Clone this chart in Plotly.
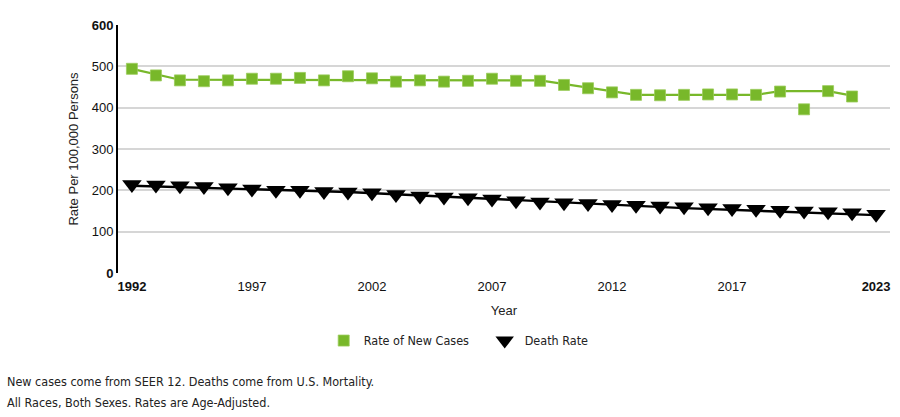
import plotly.graph_objects as go

years_new = list(range(1992, 2023))
rate_new = [494, 478, 466, 464, 466, 470, 470, 472, 466, 476, 471, 463, 466, 463, 465,
            470, 465, 465, 455, 447, 437, 431, 430, 431, 432, 432, 431, 439, 396, 440, 427]

years_death = list(range(1992, 2024))
rate_death = [214, 213, 211, 209, 206, 203, 200, 200, 197, 196, 194, 190, 186, 184, 182, 179,
              175, 172, 170, 168, 166, 164, 162, 160, 158, 156, 154, 152, 150, 148, 146, 142]

# modeled trend lines (joinpoints)
trend_new_years = [1992, 1994, 2009, 2013, 2018, 2019, 2021, 2022]
trend_new_vals = [494, 467.5, 466, 431, 431, 440, 440, 429]
trend_death_years = [1992, 2001, 2015, 2023]
trend_death_vals = [211, 196, 157, 140]

xticks = [1992, 1997, 2002, 2007, 2012, 2017, 2023]
xticktext = ["<b>1992</b>", "1997", "2002", "2007", "2012", "2017", "<b>2023</b>"]
yticks = [0, 100, 200, 300, 400, 500, 600]
yticktext = ["<b>0</b>", "100", "200", "300", "400", "500", "<b>600</b>"]

GREEN = "#78b82a"
NARROW = "Liberation Sans Narrow, DejaVu Sans Condensed, sans-serif"

fig = go.Figure()
fig.add_trace(go.Scatter(x=trend_new_years, y=trend_new_vals, mode="lines",
                         line=dict(color=GREEN, width=2.2), showlegend=False, hoverinfo="skip"))
fig.add_trace(go.Scatter(x=trend_death_years, y=trend_death_vals, mode="lines",
                         line=dict(color="#000000", width=2.4), showlegend=False, hoverinfo="skip"))
fig.add_trace(go.Scatter(x=years_new, y=rate_new, mode="markers", name="Rate of New Cases",
                         marker=dict(symbol="square", size=11, color=GREEN,
                                     line=dict(color="#9bcc5a", width=0.8))))
fig.add_trace(go.Scatter(x=years_death, y=rate_death, mode="markers", name="Death Rate",
                         marker=dict(symbol="triangle-down", size=17, color="#000000",
                                     line=dict(width=0))))

fig.update_layout(
    width=900, height=417,
    margin=dict(l=118, r=10, t=25, b=144),
    plot_bgcolor="white", paper_bgcolor="white",
    font=dict(family="Liberation Sans, Arial, sans-serif", size=13, color="#222222"),
    xaxis=dict(range=[1991.42, 2023.58], tickvals=xticks, ticktext=xticktext,
               showgrid=False, zeroline=False, showline=False, ticks="",
               ticklabelstandoff=4,
               tickfont=dict(size=13, color="#111111"),
               title=dict(text="Year", font=dict(size=13), standoff=12)),
    yaxis=dict(range=[0, 600], tickvals=yticks, ticktext=yticktext,
               showgrid=True, gridcolor="#d6d6d6", gridwidth=1.5, zeroline=False,
               showline=True, linecolor="#000000", linewidth=2, ticks="",
               tickfont=dict(size=13, color="#111111"),
               title=dict(text="Rate Per 100,000 Persons", font=dict(size=13), standoff=10)),
    legend=dict(orientation="h", x=0.475, xanchor="center", y=-0.274, yanchor="middle",
                font=dict(family=NARROW, size=12.5, color="#222222"),
                itemwidth=30, tracegroupgap=0, entrywidth=116, entrywidthmode="pixels"),
    annotations=[
        dict(text="New cases come from SEER 12. Deaths come from U.S. Mortality.",
             xref="paper", yref="paper", x=-0.1464, y=-0.4355, xanchor="left", yanchor="middle",
             showarrow=False, font=dict(family=NARROW, size=12.5, color="#222222")),
        dict(text="All Races, Both Sexes. Rates are Age-Adjusted.",
             xref="paper", yref="paper", x=-0.1464, y=-0.524, xanchor="left", yanchor="middle",
             showarrow=False, font=dict(family=NARROW, size=12.5, color="#222222")),
    ],
)

fig.write_html("out.html", config={"displayModeBar": False},
               post_script="document.body.style.margin='0';document.body.style.overflow='hidden';")
